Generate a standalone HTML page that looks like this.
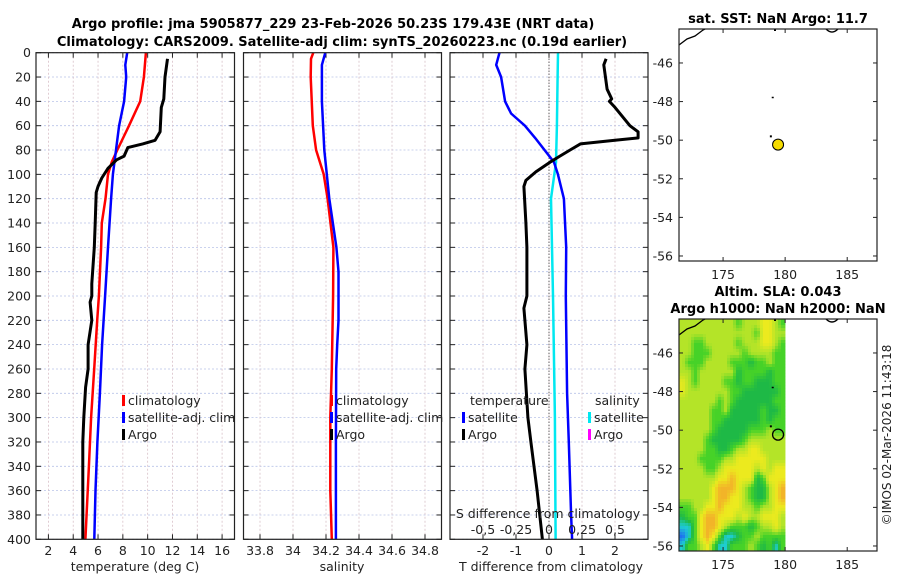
<!DOCTYPE html>
<html><head><meta charset="utf-8"><style>
body{margin:0;background:#fff;}
svg{display:block;font-family:"DejaVu Sans","Liberation Sans",sans-serif;}
</style></head><body>
<svg id="s" width="900" height="580" viewBox="0 0 900 580">
<text x="333" y="28" font-size="13" font-weight="bold" text-anchor="middle">Argo profile: jma 5905877_229 23-Feb-2026 50.23S 179.43E (NRT data)</text>
<text x="342" y="46" font-size="13" font-weight="bold" text-anchor="middle">Climatology: CARS2009. Satellite-adj clim: synTS_20260223.nc (0.19d earlier)</text>
<text x="778" y="23" font-size="13" font-weight="bold" text-anchor="middle">sat. SST: NaN Argo: 11.7</text>
<text x="778" y="296" font-size="13" font-weight="bold" text-anchor="middle">Altim. SLA: 0.043</text>
<text x="778" y="313" font-size="13" font-weight="bold" text-anchor="middle">Argo h1000: NaN h2000: NaN</text>
<text transform="translate(891,435) rotate(-90)" font-size="12" text-anchor="middle" fill="#222">©IMOS 02-Mar-2026 11:43:18</text>
</svg>
<script>
const depthTicks=[0,20,40,60,80,100,120,140,160,180,200,220,240,260,280,300,320,340,360,380,400];
const tempTicks=[2,4,6,8,10,12,14,16];
const salTicks=[33.8,34,34.2,34.4,34.6,34.8];
const salTickLabels=['33.8','34','34.2','34.4','34.6','34.8'];
const tdiffTicks=[-2,-1,0,1,2];
const sdiffTicks=[-0.5,-0.25,0,0.25,0.5];
const sdiffTickLabels=['-0,5','-0,25','0','0,25','0,5'];
const argoTDepth=[5,20,38,45,65,72,75,78,85,88,95,103,110,115,140,160,190,200,205,220,240,260,275,300,320,360,400];
const argoT=[11.6,11.4,11.3,11.1,11.0,10.6,9.6,8.4,8.1,7.5,6.8,6.3,6.0,5.85,5.77,5.7,5.5,5.5,5.36,5.5,5.2,5.2,5.0,4.85,4.77,4.77,4.77];
const climTDepth=[0,20,40,60,80,90,100,120,140,160,200,220,260,300,340,400];
const climT=[9.86,9.7,9.4,8.5,7.55,7.1,6.8,6.6,6.3,6.25,6.07,5.93,5.69,5.44,5.26,4.98];
const satTDepth=[0,10,20,40,60,80,100,120,160,200,240,280,320,360,400];
const satT=[8.35,8.2,8.27,8.1,7.7,7.45,7.2,7.05,6.8,6.57,6.33,6.15,5.95,5.8,5.7];
const climSDepth=[0,5,20,60,80,100,120,160,200,260,300,360,400];
const climS=[34.123,34.109,34.107,34.12,34.14,34.186,34.21,34.245,34.243,34.235,34.226,34.226,34.235];
const satSDepth=[0,10,40,80,120,160,180,220,240,260,320,400];
const satS=[34.196,34.175,34.175,34.19,34.22,34.263,34.276,34.276,34.268,34.262,34.26,34.26];
const satTdiffDepth=[0,10,20,40,50,60,70,90,100,120,160,200,280,320,380,400];
const satTdiff=[-1.5,-1.6,-1.45,-1.33,-1.15,-0.73,-0.42,0.15,0.27,0.45,0.52,0.51,0.55,0.6,0.67,0.7];
const argoTdiffDepth=[5,10,30,38,40,45,60,65,70,72,75,80,85,90,98,105,110,140,160,180,200,210,240,260,300,320,360,400];
const argoTdiff=[1.73,1.66,1.76,1.9,1.83,2.0,2.45,2.7,2.7,2.0,0.95,0.64,0.33,0.03,-0.4,-0.7,-0.76,-0.7,-0.67,-0.67,-0.67,-0.76,-0.67,-0.73,-0.64,-0.55,-0.36,-0.2];
const satSdiffDepth=[0,20,60,90,120,200,300,400];
const satSdiff=[0.068,0.065,0.06,0.053,0.015,0.03,0.045,0.05];
const lonTicks=[175,180,185];
const latTicks=[-46,-48,-50,-52,-54,-56];
const argoLon=179.43, argoLat=-50.23;
const slaRows=[
[.5,.5,.5,.5,.5,.5,.5,.5,.5,.4,.5,.5,.5,.62,.62,.5,.4],
[.5,.5,.5,.5,.5,.5,.5,.5,.5,.5,.5,.5,.4,.62,.62,.5,.5],
[.5,.5,.4,.4,.5,.5,.5,.5,.5,.4,.5,.5,.5,.62,.62,.5,.4],
[.5,.5,.4,.4,.4,.5,.5,.5,.5,.5,.4,.5,.5,.5,.5,.4,.4],
[.5,.4,.4,.4,.5,.5,.5,.5,.4,.4,.4,.3,.4,.4,.5,.4,.4],
[.5,.5,.4,.5,.5,.5,.5,.5,.5,.3,.4,.4,.4,.4,.3,.4,.4],
[.6,.5,.4,.5,.5,.5,.5,.4,.4,.3,.4,.4,.3,.3,.3,.4,.4],
[.6,.5,.5,.5,.5,.5,.5,.5,.4,.4,.3,.3,.3,.3,.3,.3,.4],
[.5,.5,.5,.5,.5,.5,.4,.5,.4,.3,.3,.3,.3,.3,.3,.4,.4],
[.5,.5,.5,.5,.5,.4,.4,.5,.3,.3,.3,.3,.3,.4,.3,.3,.4],
[.5,.5,.5,.5,.5,.4,.4,.3,.3,.3,.3,.3,.3,.4,.3,.4,.4],
[.5,.5,.5,.5,.5,.4,.3,.3,.3,.3,.3,.4,.4,.4,.5,.4,.4],
[.5,.5,.5,.5,.4,.3,.3,.3,.3,.3,.4,.5,.5,.5,.5,.5,.5],
[.5,.5,.5,.5,.4,.4,.3,.3,.4,.5,.5,.62,.62,.5,.5,.5,.5],
[.5,.5,.5,.4,.4,.4,.4,.5,.5,.62,.62,.62,.62,.62,.5,.5,.5],
[.5,.5,.5,.5,.4,.4,.5,.62,.62,.62,.62,.62,.5,.62,.5,.62,.62],
[.5,.5,.5,.5,.5,.5,.62,.62,.75,.62,.62,.62,.3,.4,.62,.62,.62],
[.5,.5,.5,.5,.5,.62,.75,.75,.75,.62,.5,.4,.3,.3,.5,.62,.75],
[.5,.5,.5,.5,.5,.62,.75,.75,.62,.62,.5,.4,.3,.3,.5,.62,.75],
[.4,.4,.5,.5,.62,.62,.75,.62,.62,.62,.5,.5,.4,.5,.5,.62,.62],
[.3,.4,.4,.62,.75,.75,.62,.62,.62,.5,.62,.5,.5,.62,.62,.62,.5],
[.2,.2,.4,.62,.75,.75,.62,.5,.4,.4,.4,.3,.4,.5,.5,.62,.5],
[.1,.2,.4,.62,.75,.62,.4,.2,.2,.3,.4,.4,.5,.4,.4,.4,.4],
[.2,.4,.4,.5,.62,.4,.2,.2,.4,.4,.4,.5,.4,.3,.4,.2,.4]];

const NS='http://www.w3.org/2000/svg';
const svg=document.getElementById('s');
function mk(tag,attrs,parent){const e=document.createElementNS(NS,tag);for(const k in attrs)e.setAttribute(k,attrs[k]);(parent||svg).appendChild(e);return e;}
const Y0=52.7,Y1=539.3;
const yD=d=>Y0+(d/400)*(Y1-Y0);
function panel(x0,x1,xmin,xmax,name){
  const g=mk('g',{});
  
  
  const sx=v=>x0+(v-xmin)/(xmax-xmin)*(x1-x0);
  return {g,sx};
}
function grid(p,x0,x1,xt){
  depthTicks.forEach(d=>{const y=yD(d);
    const l=mk('line',{x1:x0,x2:x1,y1:y,y2:y,stroke:'#b8c4e8','stroke-width':0.8,'stroke-dasharray':'2,2'},p.g);
    
    mk('line',{x1:x0,x2:x0+5,y1:y,y2:y,stroke:'#222'},p.g);mk('line',{x1:x1-5,x2:x1,y1:y,y2:y,stroke:'#222'},p.g);});
  xt.forEach(v=>{const x=p.sx(v);
    const l=mk('line',{x1:x,x2:x,y1:Y0,y2:Y1,stroke:'#d8c0c8','stroke-width':0.8,'stroke-dasharray':'2,2'},p.g);
    
    mk('line',{x1:x,x2:x,y1:Y1,y2:Y1-5,stroke:'#222'},p.g);mk('line',{x1:x,x2:x,y1:Y0,y2:Y0+5,stroke:'#222'},p.g);});
}
function frame(p,x0,x1){const r=mk('rect',{x:x0,y:Y0,width:x1-x0,height:Y1-Y0,fill:'none',stroke:'#222','stroke-width':1.2},p.g);}
function line(p,xs,ds,color,w,name,sx){
  const pts=xs.map((v,i)=>(sx||p.sx)(v).toFixed(1)+','+yD(ds[i]).toFixed(1)).join(' ');
  const e=mk('polyline',{points:pts,fill:'none',stroke:color,'stroke-width':w,'stroke-linejoin':'round'},p.g);
  
}
function txt(p,x,y,s,opt){const t=mk('text',Object.assign({x,y,'font-size':12.5,fill:'#222'},opt||{}),p.g);t.textContent=s;return t;}
function legend(p,x,y,items){items.forEach((it,i)=>{const yy=y+i*17;
  const r=mk('rect',{x:x,y:yy-10,width:3,height:11,fill:it[1]},p.g);
  const t=txt(p,x+6,yy,it[0]);});}

const p1=panel(36,234.5,1,17,'temperature-panel');
grid(p1,36,234.5,tempTicks);
line(p1,climT,climTDepth,'#ff0000',2.5,'climatology-temp-line');
line(p1,satT,satTDepth,'#0000ff',2.5,'satellite-temp-line');
line(p1,argoT,argoTDepth,'#000',3,'argo-temp-line');
frame(p1,36,234.5);
depthTicks.forEach(d=>{const t=txt(p1,31,yD(d)+4.5,String(d),{'text-anchor':'end'});});
tempTicks.forEach(v=>{const t=txt(p1,p1.sx(v),555,String(v),{'text-anchor':'middle'});});
txt(p1,135,571,'temperature (deg C)',{'text-anchor':'middle'});
legend(p1,122,405,[['climatology','#ff0000'],['satellite-adj. clim','#0000ff'],['Argo','#000']]);

const p2=panel(243.5,441.5,33.7,34.9,'salinity-panel');
grid(p2,243.5,441.5,salTicks);
line(p2,climS,climSDepth,'#ff0000',2.5,'climatology-sal-line');
line(p2,satS,satSDepth,'#0000ff',2.5,'satellite-sal-line');
frame(p2,243.5,441.5);
salTicks.forEach((v,i)=>{const t=txt(p2,p2.sx(v),555,salTickLabels[i],{'text-anchor':'middle'});});
txt(p2,342,571,'salinity',{'text-anchor':'middle'});
legend(p2,330,405,[['climatology','#ff0000'],['satellite-adj. clim','#0000ff'],['Argo','#000']]);

const p3=panel(450,648,-3,3,'difference-panel');
grid(p3,450,648,tdiffTicks);
const zl=mk('line',{x1:p3.sx(0),x2:p3.sx(0),y1:Y0,y2:Y1,stroke:'#333','stroke-width':1,'stroke-dasharray':'1,2'},p3.g);

const sxS=v=>p3.sx(v*4);
line(p3,satSdiff,satSdiffDepth,'#00e8f0',2.5,'satellite-sal-diff-line',sxS);
line(p3,satTdiff,satTdiffDepth,'#0000ff',2.5,'satellite-temp-diff-line');
line(p3,argoTdiff,argoTdiffDepth,'#000',3,'argo-temp-diff-line');
frame(p3,450,648);
tdiffTicks.forEach(v=>{const t=txt(p3,p3.sx(v),555,String(v),{'text-anchor':'middle'});});
sdiffTicks.forEach((v,i)=>{const t=txt(p3,sxS(v),534,sdiffTickLabels[i],{'text-anchor':'middle'});});
txt(p3,548,518,'S difference from climatology',{'text-anchor':'middle'});
txt(p3,551,571,'T difference from climatology',{'text-anchor':'middle'});
txt(p3,470,405,'temperature');
txt(p3,595,405,'salinity');
legend(p3,462,422,[['satellite','#0000ff'],['Argo','#000']]);
legend(p3,588,422,[['satellite','#00e8f0'],['Argo','#ff00ff']]);

const MX0=679,MX1=877,LONMIN=171.45,LONMAX=187.4,LATTOP=-44.24,LATBOT=-56.26;
const mx=l=>MX0+(l-LONMIN)/(LONMAX-LONMIN)*(MX1-MX0);
function mapAxes(top,name){
  const g=mk('g',{});
  const h=232;const my=l=>top+(LATTOP-l)/(LATTOP-LATBOT)*h;
  return {g,my,top,h};
}
function cmap(v){const st=[[0.1,[30,110,240]],[0.2,[30,205,210]],[0.3,[30,185,70]],[0.4,[70,210,40]],[0.5,[180,228,40]],[0.62,[236,234,30]],[0.75,[242,180,40]]];
  if(v<=st[0][0])return 'rgb('+st[0][1]+')';
  for(let i=1;i<st.length;i++){if(v<=st[i][0]){const a=st[i-1],b=st[i],t=(v-a[0])/(b[0]-a[0]);return 'rgb('+a[1].map((c,k)=>Math.round(c+(b[1][k]-c)*t))+')';}}
  return 'rgb('+st[st.length-1][1]+')';}
function mapFinish(m){
  const coast=mk('polyline',{points:`${MX0},${m.top+16} ${MX0+8},${m.top+10} ${MX0+16},${m.top+7} ${MX0+24},${m.top+1} ${MX0+26},${m.top}`,fill:'none',stroke:'#000','stroke-width':1.3},m.g);
  
  mk('path',{d:`M${MX0+147},${m.top} q6,6 12,0`,fill:'none',stroke:'#000','stroke-width':1.3},m.g);
  mk('rect',{x:MX0+95,y:m.top,width:2,height:2,fill:'#000'},m.g);
  mk('rect',{x:mx(179.0)-1,y:m.my(-47.75),width:2,height:1.5,fill:'#000'},m.g);
  mk('rect',{x:mx(178.85)-1,y:m.my(-49.75),width:2,height:2,fill:'#000'},m.g);
  mk('rect',{x:MX0,y:m.top,width:MX1-MX0,height:m.h,fill:'none',stroke:'#222','stroke-width':1.2},m.g);
  latTicks.forEach(l=>{const y=m.my(l);mk('line',{x1:MX0,x2:MX0+4,y1:y,y2:y,stroke:'#222'},m.g);mk('line',{x1:MX1-4,x2:MX1,y1:y,y2:y,stroke:'#222'},m.g);
    const t=mk('text',{x:MX0-6,y:y+4.5,'font-size':12.5,'text-anchor':'end',fill:'#222'},m.g);t.textContent=String(l);
    });
  lonTicks.forEach(l=>{const x=mx(l);mk('line',{x1:x,x2:x,y1:m.top+m.h,y2:m.top+m.h-4,stroke:'#222'},m.g);mk('line',{x1:x,x2:x,y1:m.top,y2:m.top+4,stroke:'#222'},m.g);
    const t=mk('text',{x:x,y:m.top+m.h+18,'font-size':12.5,'text-anchor':'middle',fill:'#222'},m.g);t.textContent=String(l);
    });
}
const m1=mapAxes(29,'sst-map');
mapFinish(m1);
const dot=mk('circle',{cx:mx(argoLon),cy:m1.my(argoLat),r:5.5,fill:'#f5dc00',stroke:'#000','stroke-width':1},m1.g);


const m2=mapAxes(319,'sla-map');
const NR=slaRows.length, NC=slaRows[0].length;
function sla(lon,lat){
  let fc=(lon-171.75)/0.5, fr=(-44.49-lat)/0.5;
  fc=Math.max(0,Math.min(NC-1,fc)); fr=Math.max(0,Math.min(NR-1,fr));
  const c0=Math.floor(fc),r0=Math.floor(fr),c1=Math.min(NC-1,c0+1),r1=Math.min(NR-1,r0+1),tc=fc-c0,tr=fr-r0;
  const a=slaRows[r0][c0]*(1-tc)+slaRows[r0][c1]*tc, b=slaRows[r1][c0]*(1-tc)+slaRows[r1][c1]*tc;
  return a*(1-tr)+b*tr;
}
const step=3;
const x180=mx(180);
for(let py=m2.top;py<m2.top+m2.h;py+=step){
  for(let px=MX0;px<x180;px+=step){
    const lon=LONMIN+(px+step/2-MX0)/(MX1-MX0)*(LONMAX-LONMIN);
    const lat=LATTOP-(py+step/2-m2.top)/m2.h*(LATTOP-LATBOT);
    const c=mk('rect',{x:px,y:py,width:Math.min(step,x180-px)+0.3,height:Math.min(step,m2.top+m2.h-py)+0.3,fill:cmap(sla(lon,lat))},m2.g);
    
    
  }
}
mapFinish(m2);
const oc=mk('circle',{cx:mx(argoLon),cy:m2.my(argoLat),r:5.5,fill:'none',stroke:'#000','stroke-width':1.3},m2.g);

</script>
</body></html>
